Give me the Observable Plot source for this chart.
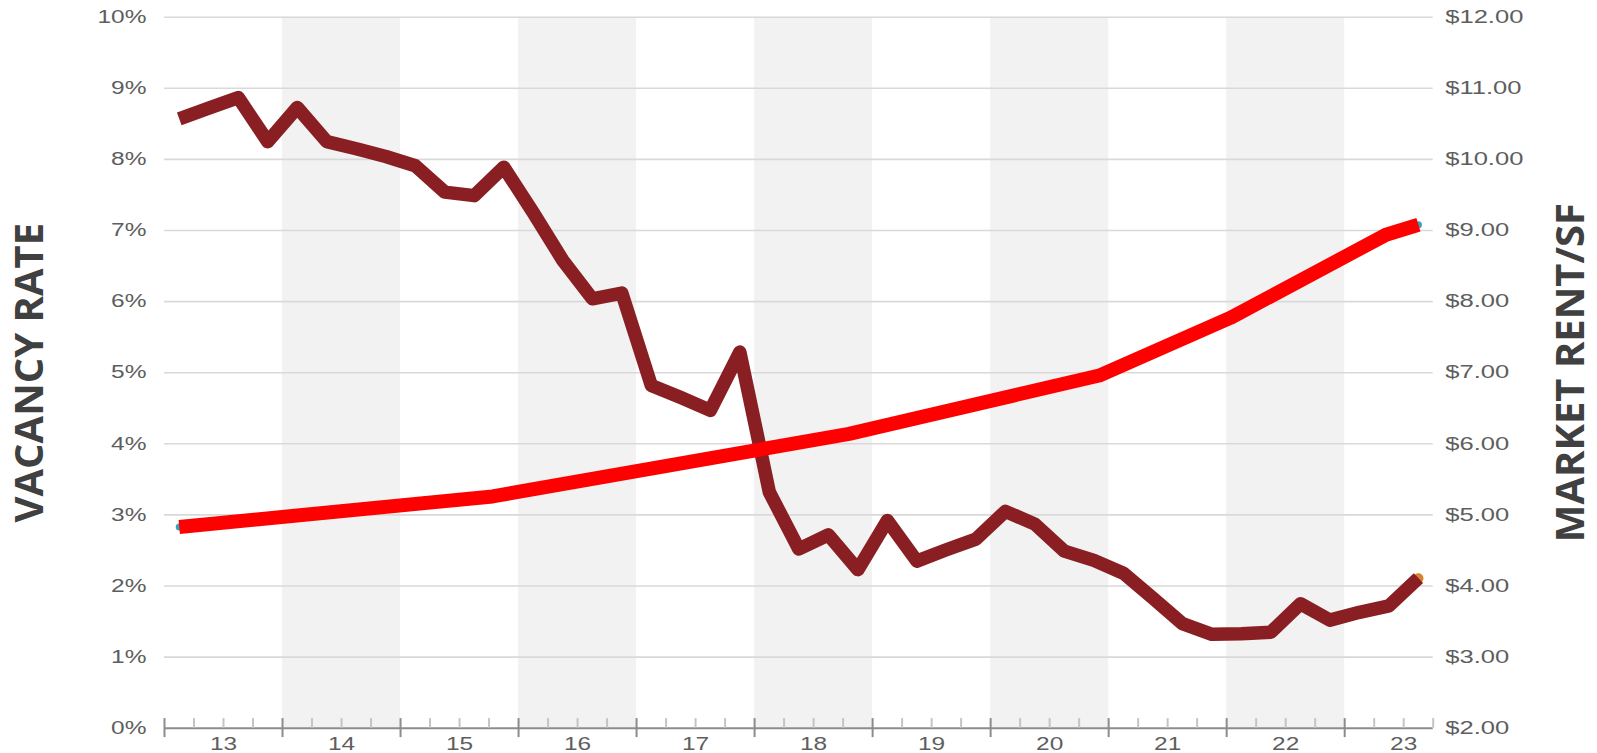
<!DOCTYPE html>
<html>
<head>
<meta charset="utf-8">
<script src="https://cdn.jsdelivr.net/npm/d3@7"></script>
<script src="https://cdn.jsdelivr.net/npm/@observablehq/plot@0.6"></script>
<style>
  html, body { margin: 0; padding: 0; background: #ffffff; }
  #chart svg { display: block; }
</style>
</head>
<body>
<div id="chart"></div>
<script>
// ---- Data ----
const years = [2013, 2014, 2015, 2016, 2017, 2018, 2019, 2020, 2021, 2022, 2023];
const yearLabels = ["13", "14", "15", "16", "17", "18", "19", "20", "21", "22", "23"];
const quarterNames = ["Q1", "Q2", "Q3", "Q4"];
const shadedYears = [2014, 2016, 2018, 2020, 2022];

// Vacancy rate (%), quarterly 2013 Q1 .. 2023 Q3
const vacancy = [
  8.57, 8.72, 8.87, 8.25,
  8.73, 8.25, 8.15, 8.04,
  7.91, 7.54, 7.49, 7.89,
  7.25, 6.58, 6.04, 6.12,
  4.82, 4.65, 4.47, 5.29,
  3.32, 2.52, 2.72, 2.23,
  2.92, 2.35, 2.51, 2.66,
  3.05, 2.87, 2.49, 2.36,
  2.18, 1.83, 1.47, 1.32,
  1.33, 1.35, 1.75, 1.52,
  1.63, 1.72, 2.11
];

// Market rent ($/SF) at its break points (decimal year)
const rentDates = [2013.125, 2015.78, 2018.80, 2020.92, 2022.03, 2023.35, 2023.625];
const rentValues = [4.83, 5.26, 6.14, 6.96, 7.77, 8.94, 9.08];

const vacancyTicks = [0, 1, 2, 3, 4, 5, 6, 7, 8, 9, 10];
const rentTicks = [2, 3, 4, 5, 6, 7, 8, 9, 10, 11, 12];
const rentBase = 2; // right axis starts at $2.00

// ---- Derived tables ----
const quarterLabels = years.flatMap(y => quarterNames.map(q => `${y} ${q}`));
const vacancyData = vacancy.map((v, i) => ({quarter: quarterLabels[i], t: years[0] + i / 4 + 1 / 8, v}));
const rentData = rentDates.map((t, i) => ({t, rent: rentValues[i]}));
const xEnd = years[0] + vacancy.length / 4 + 0.0; // 2023.75
const majorTicks = years;
const minorTicks = years.flatMap(y => [0.25, 0.5, 0.75].map(f => y + f)).filter(t => t <= xEnd);

const chart = Plot.plot({
  width: 1597,
  height: 753,
  marginTop: 16.7,
  marginBottom: 25.3,
  marginLeft: 164,
  marginRight: 164.3,
  style: {background: "#ffffff", overflow: "visible"},
  x: {domain: [years[0], xEnd]},
  y: {domain: [0, 10]},
  marks: [
    // alternating year bands
    Plot.rect(shadedYears, {x1: d => d, x2: d => d + 1, y1: 0, y2: 10, fill: "#f2f2f2"}),
    // gridlines
    Plot.ruleY(vacancyTicks.filter(d => d > 0), {stroke: "#d9d9d9", strokeWidth: 1.6}),
    // left axis labels
    Plot.axisY({anchor: "left", ticks: vacancyTicks, tickFormat: d => d + "%", tickSize: 0, tickPadding: 18,
      label: null, fontSize: 18, fontFamily: "Liberation Sans", fill: "#5e5e5e"}),
    // right axis labels
    Plot.axisY({anchor: "right", ticks: rentTicks.map(d => d - rentBase), tickFormat: d => "$" + (d + rentBase).toFixed(2),
      tickSize: 0, tickPadding: 12, label: null, fontSize: 18, fontFamily: "Liberation Sans", fill: "#5e5e5e"}),
    // x-axis line and ticks
    Plot.ruleY([0], {stroke: "#8c8c8c", strokeWidth: 2}),
    Plot.ruleX(minorTicks, {x: d => d, y1: 0, y2: 0.135, stroke: "#c4c4c4", strokeWidth: 2}),
    Plot.ruleX(majorTicks, {x: d => d, y1: -0.132, y2: 0.135, stroke: "#8c8c8c", strokeWidth: 2}),
    Plot.axisX({anchor: "bottom", ticks: years.map(y => y + 0.5), tickFormat: (d, i) => yearLabels[i],
      tickSize: 0, tickPadding: 9, label: null, fontSize: 18, fontFamily: "Liberation Sans", fill: "#5e5e5e"}),
    // end markers peeking out
    Plot.dot([vacancyData[vacancyData.length - 1]], {x: "t", y: "v", r: 5, fill: "#d9822b"}),
    Plot.dot([rentData[0], rentData[rentData.length - 1]], {x: "t", y: d => d.rent - rentBase, r: 3.5, fill: "#3a9fc0"}),
    // vacancy line
    Plot.line(vacancyData, {x: "t", y: "v", stroke: "#891f23", strokeWidth: 13.5, strokeLinejoin: "round", strokeLinecap: "butt"}),
    // rent line
    Plot.line(rentData, {x: "t", y: d => d.rent - rentBase, stroke: "#ff0000", strokeWidth: 14, strokeLinejoin: "round", strokeLinecap: "butt"}),
    // axis titles
    Plot.text(["VACANCY RATE"], {frameAnchor: "left", dx: -134, rotate: -90, fontSize: 40, fontWeight: 700,
      fontFamily: "Open Sans", fill: "#404040", textAnchor: "middle", lineAnchor: "middle"}),
    Plot.text(["MARKET RENT/SF"], {frameAnchor: "right", dx: 138, rotate: -90, fontSize: 40, fontWeight: 700,
      fontFamily: "Open Sans", fill: "#404040", textAnchor: "middle", lineAnchor: "middle"})
  ]
});

document.getElementById("chart").appendChild(chart);

// widen the tick labels like the reference's stretched typography
d3.select(chart).selectAll('g[aria-label$="tick label"] text').each(function() {
  const w = this.getComputedTextLength();
  const s = this.textContent.startsWith("$") ? 1.42 : 1.36;
  this.setAttribute("textLength", (w * s).toFixed(1));
  this.setAttribute("lengthAdjust", "spacingAndGlyphs");
});
</script>
</body>
</html>
